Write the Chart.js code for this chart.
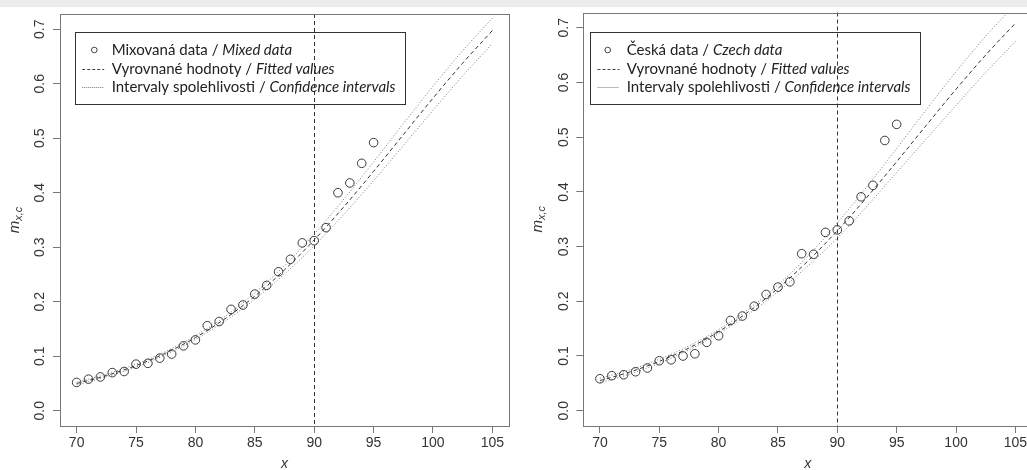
<!DOCTYPE html>
<html><head><meta charset="utf-8">
<script src="https://cdn.jsdelivr.net/npm/chart.js@4/dist/chart.umd.min.js"></script>
<style>
html,body{margin:0;padding:0;background:#fff;overflow:hidden;width:1027px;height:470px;}
#strip{position:absolute;left:0;top:0;width:1027px;height:7px;background:#ececec;z-index:5;}
#w1{position:absolute;left:0;top:0;width:515px;height:470px;}
#w2{position:absolute;left:515px;top:0;width:530px;height:470px;}
</style></head><body>
<div id="w1"><canvas id="c1" width="515" height="470"></canvas></div>
<div id="w2"><canvas id="c2" width="530" height="470"></canvas></div>
<div id="strip"></div>
<script>
// ---- data ----
const ages = [70,71,72,73,74,75,76,77,78,79,80,81,82,83,84,85,86,87,88,89,90,91,92,93,94,95];
const mixedRates = [0.052,0.058,0.062,0.070,0.072,0.0855,0.087,0.0965,0.104,0.119,0.130,0.156,0.1637,0.186,0.194,0.214,0.230,0.255,0.278,0.308,0.312,0.336,0.400,0.418,0.454,0.492];
const czechRates = [0.0584,0.064,0.0657,0.0712,0.078,0.0913,0.093,0.100,0.104,0.125,0.137,0.165,0.173,0.191,0.2125,0.226,0.2356,0.287,0.286,0.326,0.3305,0.347,0.391,0.412,0.494,0.5235];
const fitAges = [70,72.5,75,77.5,80,82.5,85,87.5,90,92.5,95,97.5,100,102.5,105];
const mixedFit   = [0.0500,0.0645,0.0828,0.1058,0.1342,0.1689,0.2102,0.2585,0.3135,0.3743,0.4393,0.5065,0.5735,0.6378,0.6976];
const mixedUpper = [0.0524,0.0670,0.0856,0.1087,0.1377,0.1730,0.2160,0.2662,0.3243,0.3884,0.4566,0.5265,0.5953,0.6606,0.7203];
const mixedLower = [0.0477,0.0622,0.0802,0.1030,0.1307,0.1647,0.2045,0.2509,0.3028,0.3604,0.4222,0.4865,0.5513,0.6144,0.6739];
const czechFit   = [0.0550,0.0706,0.0902,0.1146,0.1445,0.1807,0.2236,0.2732,0.3291,0.3904,0.4553,0.5219,0.5877,0.6503,0.7083];
const czechUpper = [0.0593,0.0746,0.0940,0.1182,0.1483,0.1852,0.2297,0.2822,0.3432,0.4097,0.4795,0.5505,0.6199,0.6847,0.7430];
const czechLower = [0.0510,0.0668,0.0866,0.1111,0.1409,0.1763,0.2175,0.2643,0.3156,0.3739,0.4356,0.4969,0.5582,0.6184,0.6751];
const xTicks = [70,75,80,85,90,95,100,105];
const yTicks = [0,0.1,0.2,0.3,0.4,0.5,0.6,0.7];
const yTickLabels = ['0.0','0.1','0.2','0.3','0.4','0.5','0.6','0.7'];
const refAge = 90;
const xRange = [68.6, 106.4];
const yRange = [-0.028, 0.728];
const legendFitted = ['Vyrovnané hodnoty / ', 'Fitted values'];
const legendCI = ['Intervaly spolehlivosti / ', 'Confidence intervals'];
const legendMixed = ['Mixovaná data / ', 'Mixed data'];
const legendCzech = ['Česká data / ', 'Czech data'];
const xTitle = 'x';
const yTitleMain = 'm', yTitleSub = 'x,c';

const AXIS_FONT = '"Liberation Sans", Arial, sans-serif';
const LEG_FONT = 'Lato, "Open Sans", sans-serif';

const decor = {
  id: 'decor',
  beforeDatasetsDraw(chart, args, o) {
    const ctx = chart.ctx, a = chart.chartArea, xs = chart.scales.x;
    const px = Math.round(xs.getPixelForValue(refAge)) + 0.5;
    ctx.save();
    ctx.strokeStyle = '#333'; ctx.lineWidth = 1; ctx.setLineDash([4,3]);
    ctx.beginPath(); ctx.moveTo(px, a.top); ctx.lineTo(px, a.bottom); ctx.stroke();
    ctx.restore();
  },
  afterDraw(chart, args, o) {
    const ctx = chart.ctx, a = chart.chartArea, ys = chart.scales.y, xs = chart.scales.x;
    ctx.save();
    // box
    ctx.strokeStyle = '#777'; ctx.lineWidth = 1;
    ctx.strokeRect(Math.round(a.left)+0.5, Math.round(a.top)+0.5, Math.round(a.right)-Math.round(a.left), Math.round(a.bottom)-Math.round(a.top));
    // y tick labels rotated
    ctx.fillStyle = '#333';
    ctx.font = '14px ' + AXIS_FONT;
    ctx.textAlign = 'center'; ctx.textBaseline = 'middle';
    yTicks.forEach((v,i) => {
      const py = ys.getPixelForValue(v);
      ctx.save(); ctx.translate(a.left - 19.5, py); ctx.rotate(-Math.PI/2);
      ctx.fillText(yTickLabels[i], 0, 0); ctx.restore();
    });
    // x title
    ctx.font = 'italic 14px ' + AXIS_FONT;
    ctx.fillText(xTitle, (a.left + a.right)/2, 464);
    // y title
    ctx.save(); ctx.translate(a.left - 45, (a.top + a.bottom)/2); ctx.rotate(-Math.PI/2);
    ctx.font = 'italic 15px ' + AXIS_FONT;
    const wm = ctx.measureText(yTitleMain).width;
    ctx.font = 'italic 11px ' + AXIS_FONT;
    const ws = ctx.measureText(yTitleSub).width;
    const x0 = -(wm + ws)/2;
    ctx.textAlign = 'left';
    ctx.font = 'italic 15px ' + AXIS_FONT; ctx.fillText(yTitleMain, x0, 0);
    ctx.font = 'italic 11px ' + AXIS_FONT; ctx.fillText(yTitleSub, x0 + wm, 4);
    ctx.restore();
    // legend
    const L = o.legend;
    const bx = a.left + L.dx, by = a.top + L.dy;
    ctx.strokeStyle = '#333'; ctx.lineWidth = 1;
    ctx.strokeRect(Math.round(bx)+0.5, Math.round(by)+0.5, L.w, L.h);
    const rows = [by + 18.3, by + 37.3, by + 55.3];
    ctx.strokeStyle = '#444';
    ctx.beginPath(); ctx.arc(bx + L.sym, rows[0], 2.8, 0, Math.PI*2); ctx.stroke();
    ctx.setLineDash([3,2]);
    ctx.beginPath(); ctx.moveTo(bx + 7.5, Math.round(rows[1])+0.5); ctx.lineTo(bx + 29.5, Math.round(rows[1])+0.5); ctx.stroke();
    ctx.strokeStyle = '#777'; ctx.setLineDash([1,1]);
    ctx.beginPath(); ctx.moveTo(bx + 7.5, Math.round(rows[2])+0.5); ctx.lineTo(bx + 29.5, Math.round(rows[2])+0.5); ctx.stroke();
    ctx.setLineDash([]);
    ctx.fillStyle = '#222'; ctx.textAlign = 'left'; ctx.textBaseline = 'middle';
    [L.first, legendFitted, legendCI].forEach((t,i) => {
      const tx = bx + L.tx;
      ctx.font = L.size + 'px ' + LEG_FONT;
      ctx.fillText(t[0], tx, rows[i]);
      const w0 = ctx.measureText(t[0]).width;
      ctx.font = 'italic ' + L.size + 'px ' + LEG_FONT;
      ctx.fillText(t[1], tx + w0, rows[i]);
    });
    ctx.restore();
  }
};

function pts(xsArr, ysArr) { return xsArr.map((x,i) => ({x, y: ysArr[i]})); }

function makePanel(id, rates, fit, up, lo, first, geom) {
  return new Chart(document.getElementById(id), {
    type: 'line',
    data: { datasets: [
      { type:'scatter', data: pts(ages, rates), showLine:false, pointStyle:'circle', pointRadius:4.3,
        pointBorderWidth:1, borderColor:'#3a3a3a', pointBorderColor:'#3a3a3a', backgroundColor:'rgba(0,0,0,0)', pointBackgroundColor:'rgba(0,0,0,0)' },
      { data: pts(fitAges, fit), borderColor:'#333', borderWidth:1, borderDash:[4,3], pointRadius:0, cubicInterpolationMode:'monotone', fill:false },
      { data: pts(fitAges, up), borderColor:'#777', borderWidth:1, borderDash:[1,2], pointRadius:0, cubicInterpolationMode:'monotone', fill:false },
      { data: pts(fitAges, lo), borderColor:'#777', borderWidth:1, borderDash:[1,2], pointRadius:0, cubicInterpolationMode:'monotone', fill:false }
    ]},
    options: {
      responsive:false, animation:false, devicePixelRatio:1,
      layout: { padding: { left:0, top:geom.top, right:geom.right, bottom:0 } },
      plugins: { legend:{display:false}, tooltip:{enabled:false},
        decor: { legend: geom.legend } },
      scales: {
        x: { type:'linear', min:xRange[0], max:xRange[1],
          afterBuildTicks: s => { s.ticks = xTicks.map(v => ({value:v})); },
          afterFit: s => { s.height = 44; },
          ticks: { font:{family:AXIS_FONT, size:14}, color:'#333', padding:2, maxRotation:0, autoSkip:false, callback: v => String(v) },
          grid: { drawOnChartArea:false, drawTicks:true, tickLength:7, color:'#777', lineWidth:1 },
          border: { display:false } },
        y: { type:'linear', min:yRange[0], max:yRange[1],
          afterBuildTicks: s => { s.ticks = yTicks.map(v => ({value:v})); },
          afterFit: s => { s.width = geom.yw; },
          ticks: { display:false },
          grid: { drawOnChartArea:false, drawTicks:true, tickLength:7, color:'#777', lineWidth:1 },
          border: { display:false } }
      }
    },
    plugins: [decor]
  });
}

makePanel('c1', mixedRates, mixedFit, mixedUpper, mixedLower, legendMixed,
  { top:14, right:6, yw:60, legend:{ dx:14.7, dy:17.7, w:330, h:72, sym:19.6, tx:37, size:15, first:legendMixed } });
makePanel('c2', czechRates, czechFit, czechUpper, czechLower, legendCzech,
  { top:12.5, right:13, yw:68.3, legend:{ dx:6.7, dy:19.2, w:330, h:72, sym:17.7, tx:36.7, size:15, first:legendCzech } });
</script>
</body></html>
